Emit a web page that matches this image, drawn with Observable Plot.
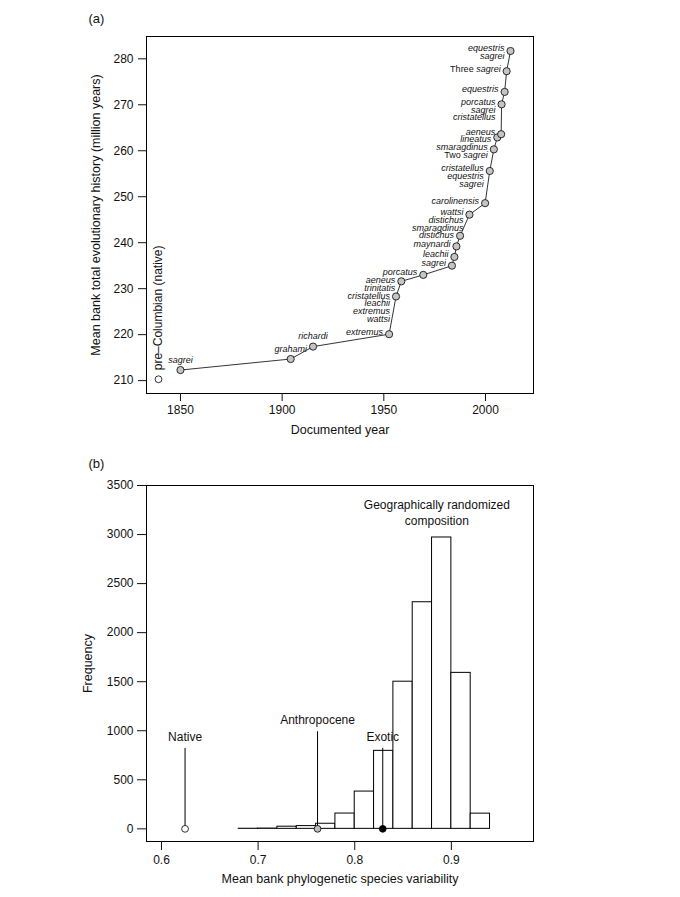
<!DOCTYPE html>
<html><head><meta charset="utf-8">
<script src="https://cdn.jsdelivr.net/npm/d3@7"></script>
<script src="https://cdn.jsdelivr.net/npm/@observablehq/plot@0.6"></script>
<style>
body{margin:0;background:#fff;font-family:"Liberation Sans",Arial,sans-serif;}
#chart{width:680px;}
#chart svg{display:block;overflow:visible;}
</style></head><body><div id="chart"></div>
<script>
// ---------- Panel (a) data ----------
const years = [1850, 1904.2, 1915.2, 1952.6, 1956.0, 1958.6, 1969.4, 1983.5, 1984.7, 1985.7, 1987.5, 1992.1, 1999.8, 2002.1, 2004.1, 2005.8, 2007.7, 2007.9, 2009.4, 2010.4, 2012.3];
const history = [212.3, 214.7, 217.4, 220.1, 228.3, 231.6, 233.0, 235.0, 236.9, 239.2, 241.5, 246.1, 248.6, 255.6, 260.3, 262.9, 263.6, 270.1, 272.8, 277.3, 281.7];
const species = ["sagrei", "grahami", "richardi", "extremus",
  "cristatellus\nleachii\nextremus\nwattsi", "aeneus\ntrinitatis", "porcatus", "sagrei",
  "leachii", "maynardi", "distichus", "wattsi\ndistichus\nsmaragdinus", "carolinensis",
  "cristatellus\nequestris\nsagrei", "smaragdinus\nTwo sagrei", "lineatus", "aeneus",
  "porcatus\nsagrei\ncristatellus", "equestris", "Three sagrei", "equestris\nsagrei"];
const nativeYear = 1839.2;
const nativeHistory = 210.3;
const nativeLabel = "pre\u2013Columbian (native)";
const xTicksA = [1850, 1900, 1950, 2000];
const yTicksA = [210, 220, 230, 240, 250, 260, 270, 280];

// ---------- Panel (b) data ----------
const binEdges = [0.68, 0.70, 0.72, 0.74, 0.76, 0.78, 0.80, 0.82, 0.84, 0.86, 0.88, 0.90, 0.92, 0.94];
const binCounts = [1, 3, 22, 28, 52, 156, 380, 795, 1500, 2310, 2970, 1590, 155];
const obsNames = ["Native", "Anthropocene", "Exotic"];
const obsPSV = [0.6244, 0.7615, 0.829];
const obsLineTop = [820, 990, 820];
const xTicksB = [0.6, 0.7, 0.8, 0.9];
const yTicksB = [0, 500, 1000, 1500, 2000, 2500, 3000, 3500];
const randomLabel = "Geographically randomized\ncomposition";

const FONT = "Liberation Sans, Arial, Helvetica, sans-serif";
const INK = "#111";

// ---------- Panel (a) ----------
const dataA = years.map((year, i) => ({year, value: history[i], label: species[i]}));
const yDomA = [207.2, 284.85];
const hA = 445, mtA = 36, mbA = 52;
const kA = (hA - mtA - mbA) / (yDomA[1] - yDomA[0]);
const lh = 7.8 / kA, off = 2.5 / kA;
const sideRows = [];
let prevLast = Infinity;
dataA.filter(d => d.year >= 1950).sort((a, b) => b.value - a.value).forEach(d => {
  const lines = d.label.split("\n");
  const first = Math.min(d.value + off, prevLast - lh);
  lines.forEach((t, j) => sideRows.push({year: d.year, y: first - j * lh, text: t}));
  prevLast = first - (lines.length - 1) * lh;
});
const topRows = dataA.filter(d => d.year < 1950);

const plotA = Plot.plot({
  width: 680, height: hA,
  marginTop: mtA, marginBottom: mbA, marginLeft: 146, marginRight: 147,
  style: {fontFamily: FONT, fontSize: "12px", color: INK, background: "white", overflow: "visible"},
  x: {domain: [1833.3, 2023.6]},
  y: {domain: yDomA},
  marks: [
    Plot.frame({stroke: "black", strokeWidth: 1}),
    Plot.axisX({ticks: xTicksA, tickFormat: "d", tickSize: 8, tickPadding: 4, label: null, fontSize: 12}),
    Plot.axisY({ticks: yTicksA, tickFormat: "d", tickSize: 8, tickPadding: 5, label: null, fontSize: 12}),
    Plot.text(["Documented year"], {frameAnchor: "bottom", dy: 36.5, textAnchor: "middle", lineAnchor: "middle", fontSize: 12.5, fill: INK}),
    Plot.text(["Mean bank total evolutionary history (million years)"], {frameAnchor: "left", dx: -51, rotate: -90, textAnchor: "middle", lineAnchor: "middle", fontSize: 12.5, fill: INK}),
    Plot.text(["(a)"], {frameAnchor: "top-left", dx: -58, dy: -18, textAnchor: "start", lineAnchor: "middle", fontSize: 13, fill: INK}),
    Plot.line(dataA, {x: "year", y: "value", stroke: "black", strokeWidth: 0.8}),
    Plot.dot(dataA, {x: "year", y: "value", r: 3.6, fill: "#c4c4c4", stroke: "black", strokeWidth: 0.8}),
    Plot.dot([{year: nativeYear, value: nativeHistory}], {x: "year", y: "value", r: 3.4, fill: "white", stroke: "black", strokeWidth: 0.8}),
    Plot.text([{year: nativeYear, value: nativeHistory, t: nativeLabel}], {x: "year", y: "value", text: "t", rotate: -90, textAnchor: "start", lineAnchor: "middle", dy: -9, fontSize: 12, fill: INK}),
    Plot.text(sideRows, {x: "year", y: "y", text: "text", textAnchor: "end", lineAnchor: "middle", dx: -6, fontSize: 9, fontStyle: "italic", fill: INK}),
    Plot.text(topRows, {x: "year", y: "value", text: "label", textAnchor: "middle", lineAnchor: "middle", dy: -10, fontSize: 9, fontStyle: "italic", fill: INK})
  ]
});

// mixed upright/italic for "Three sagrei" / "Two sagrei"
plotA.querySelectorAll("text").forEach(el => {
  const m = /^(Three |Two )(.*)$/.exec(el.textContent);
  if (m && el.children.length === 0) {
    el.textContent = "";
    const ns = "http://www.w3.org/2000/svg";
    const a = document.createElementNS(ns, "tspan");
    a.setAttribute("font-style", "normal");
    a.textContent = m[1];
    const b = document.createElementNS(ns, "tspan");
    b.textContent = m[2];
    el.appendChild(a); el.appendChild(b);
  }
});

// ---------- Panel (b) ----------
const bins = binCounts.map((c, i) => ({x1: binEdges[i], x2: binEdges[i + 1], count: c}));
const obs = obsNames.map((name, i) => ({name, psv: obsPSV[i], top: obsLineTop[i]}));
const obsFill = {Native: "white", Anthropocene: "#bdbdbd", Exotic: "black"};

const plotB = Plot.plot({
  width: 680, height: 452,
  marginTop: 40, marginBottom: 56, marginLeft: 146, marginRight: 147,
  style: {fontFamily: FONT, fontSize: "12px", color: INK, background: "white", overflow: "visible"},
  x: {domain: [0.5845, 0.985]},
  y: {domain: [-129, 3500]},
  marks: [
    Plot.frame({stroke: "black", strokeWidth: 1}),
    Plot.axisX({ticks: xTicksB, tickFormat: d3.format(".1f"), tickSize: 9, tickPadding: 4.5, label: null, fontSize: 12}),
    Plot.axisY({ticks: yTicksB, tickFormat: "d", tickSize: 9, tickPadding: 4, label: null, fontSize: 12}),
    Plot.text(["Mean bank phylogenetic species variability"], {frameAnchor: "bottom", dy: 37.5, textAnchor: "middle", lineAnchor: "middle", fontSize: 12.5, fill: INK}),
    Plot.text(["Frequency"], {frameAnchor: "left", dx: -58.5, rotate: -90, textAnchor: "middle", lineAnchor: "middle", fontSize: 12.5, fill: INK}),
    Plot.text(["(b)"], {frameAnchor: "top-left", dx: -58, dy: -22, textAnchor: "start", lineAnchor: "middle", fontSize: 13, fill: INK}),
    Plot.rect(bins, {x1: "x1", x2: "x2", y1: 0, y2: "count", fill: "white", stroke: "black", strokeWidth: 1}),
    Plot.ruleX(obs, {x: "psv", y1: 0, y2: "top", stroke: "black", strokeWidth: 1}),
    Plot.dot(obs, {x: "psv", y: 0, r: 3.4, fill: d => obsFill[d.name], stroke: "black", strokeWidth: 0.8}),
    Plot.text(obs, {x: "psv", y: "top", text: "name", dy: -11.5, lineAnchor: "middle", fontSize: 12, fill: INK}),
    Plot.text([{x: 0.885, y: 3232, t: randomLabel}], {x: "x", y: "y", text: "t", lineAnchor: "middle", lineHeight: 1.33, fontSize: 12, fill: INK})
  ]
});

const chart = document.getElementById("chart");
chart.appendChild(plotA);
chart.appendChild(plotB);
</script></body></html>
